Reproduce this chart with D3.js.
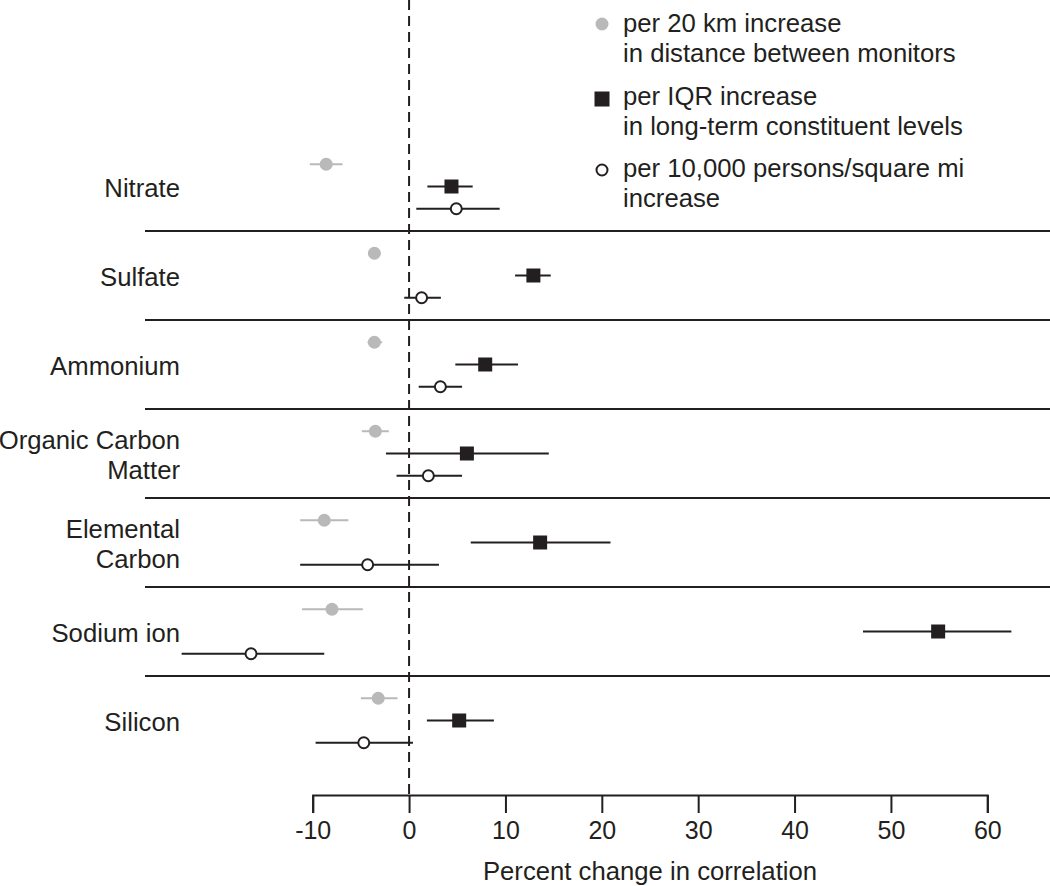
<!DOCTYPE html>
<html>
<head>
<meta charset="utf-8">
<script src="https://cdn.jsdelivr.net/npm/d3@7"></script>
<style>
  body { margin: 0; background: #fff; }
  svg text { font-family: "Liberation Sans", Arial, sans-serif; fill: #231f20; }
</style>
</head>
<body>
<div id="chart"></div>
<script>
// constituent groups, top to bottom (label lines)
var categories = [
	["Nitrate"],
	["Sulfate"],
	["Ammonium"],
	["Organic Carbon", "Matter"],
	["Elemental", "Carbon"],
	["Sodium ion"],
	["Silicon"]
];

// per 20 km increase in distance between monitors: [estimate, lower, upper]
var distanceEst = [-8.6, -3.6, -3.6, -3.5, -8.8, -8.0, -3.2];
var distanceLo  = [-10.3, -4.2, -4.3, -4.9, -11.3, -11.1, -5.0];
var distanceHi  = [-6.9, -3.0, -2.8, -2.1, -6.3, -4.8, -1.2];

// per IQR increase in long-term constituent levels
var iqrEst = [4.4, 12.9, 7.9, 6.0, 13.6, 54.9, 5.2];
var iqrLo  = [1.9, 11.0, 4.8, -2.4, 6.4, 47.1, 1.85];
var iqrHi  = [6.6, 14.7, 11.3, 14.5, 20.9, 62.5, 8.8];

// per 10,000 persons/square mi increase
var densEst = [4.9, 1.3, 3.25, 2.0, -4.3, -16.4, -4.7];
var densLo  = [0.75, -0.5, 1.0, -1.3, -11.3, -23.6, -9.7];
var densHi  = [9.4, 3.3, 5.5, 5.5, 3.1, -8.8, 0.4];

var xTicks = [-10, 0, 10, 20, 30, 40, 50, 60];

var legendLabels = [
	["per 20 km increase", "in distance between monitors"],
	["per IQR increase", "in long-term constituent levels"],
	["per 10,000 persons/square mi", "increase"]
];

var width = 1050, height = 886;
var plotLeft = 145, plotRight = 1050;
var gray = "#b9b9b9", dark = "#231f20";
var fs = 25.7;

var svg = d3.select("#chart").append("svg")
	.attr("width", width)
	.attr("height", height);

var x = d3.scaleLinear().domain([-10, 60]).range([312.7, 987.3]);
var y = d3.scaleBand()
	.domain(categories.map(function(d, i) { return i; }))
	.range([142, 765]);
var step = y.bandwidth() / 4;

// series table built from the arrays above
var series = [
	{key: "distance", est: distanceEst, lo: distanceLo, hi: distanceHi, row: 1, color: gray},
	{key: "iqr", est: iqrEst, lo: iqrLo, hi: iqrHi, row: 2, color: dark},
	{key: "dens", est: densEst, lo: densLo, hi: densHi, row: 3, color: dark}
];
var rows = [];
series.forEach(function(s) {
	categories.forEach(function(c, i) {
		rows.push({key: s.key, est: s.est[i], lo: s.lo[i], hi: s.hi[i],
			y: y(i) + step * s.row, color: s.color});
	});
});

// group separators
svg.append("g").selectAll("line")
	.data(categories.slice(0, -1))
	.enter().append("line")
	.attr("x1", plotLeft).attr("x2", plotRight)
	.attr("y1", function(d, i) { return y(i) + y.bandwidth(); })
	.attr("y2", function(d, i) { return y(i) + y.bandwidth(); })
	.attr("stroke", dark).attr("stroke-width", 2);

// reference line at zero
svg.append("line")
	.attr("x1", x(0)).attr("x2", x(0))
	.attr("y1", 0).attr("y2", 795)
	.attr("stroke", dark).attr("stroke-width", 2)
	.attr("stroke-dasharray", "10,6");

// category labels
var labels = svg.append("g").selectAll("text")
	.data(categories)
	.enter().append("text")
	.attr("text-anchor", "end")
	.attr("font-size", fs)
	.attr("x", 180)
	.attr("y", function(d, i) { return y(i) + step * 2 + 2 - (d.length - 1) * 15; });
labels.selectAll("tspan")
	.data(function(d) { return d; })
	.enter().append("tspan")
	.attr("x", 180)
	.attr("dy", function(d, i) { return i === 0 ? "0.35em" : 30; })
	.text(function(d) { return d; });

// confidence intervals
svg.append("g").selectAll("line")
	.data(rows)
	.enter().append("line")
	.attr("x1", function(d) { return x(d.lo); })
	.attr("x2", function(d) { return x(d.hi); })
	.attr("y1", function(d) { return d.y; })
	.attr("y2", function(d) { return d.y; })
	.attr("stroke", function(d) { return d.color; })
	.attr("stroke-width", 2);

// point estimates
var pts = svg.append("g");
pts.selectAll(".dist")
	.data(rows.filter(function(d) { return d.key === "distance"; }))
	.enter().append("circle")
	.attr("cx", function(d) { return x(d.est); })
	.attr("cy", function(d) { return d.y; })
	.attr("r", 6.5)
	.attr("fill", gray);
pts.selectAll(".iqr")
	.data(rows.filter(function(d) { return d.key === "iqr"; }))
	.enter().append("rect")
	.attr("x", function(d) { return x(d.est) - 7; })
	.attr("y", function(d) { return d.y - 7; })
	.attr("width", 14).attr("height", 14)
	.attr("fill", dark);
pts.selectAll(".dens")
	.data(rows.filter(function(d) { return d.key === "dens"; }))
	.enter().append("circle")
	.attr("cx", function(d) { return x(d.est); })
	.attr("cy", function(d) { return d.y; })
	.attr("r", 5.5)
	.attr("fill", "#fff")
	.attr("stroke", dark)
	.attr("stroke-width", 2);

// x axis
var axis = svg.append("g")
	.attr("transform", "translate(0,795)")
	.call(d3.axisBottom(x).tickValues(xTicks).tickSize(18).tickPadding(8)
		.tickFormat(function(d) { return d; }));
axis.select(".domain").attr("stroke", dark).attr("stroke-width", 2);
axis.selectAll(".tick line").attr("stroke", dark).attr("stroke-width", 2);
axis.selectAll(".tick text").attr("font-size", 25).attr("fill", dark)
	.attr("font-family", "Liberation Sans, Arial, sans-serif");

svg.append("text")
	.attr("x", (x(-10) + x(60)) / 2)
	.attr("y", 871)
	.attr("dy", "0.35em")
	.attr("text-anchor", "middle")
	.attr("font-size", fs)
	.text("Percent change in correlation");

// legend
var legendY = [23, 96, 168];
var leg = svg.append("g").selectAll("g")
	.data(legendLabels)
	.enter().append("g")
	.attr("transform", function(d, i) { return "translate(602," + legendY[i] + ")"; });
leg.each(function(d, i) {
	var g = d3.select(this);
	if (i === 0) g.append("circle").attr("cy", 1).attr("r", 6.5).attr("fill", gray);
	if (i === 1) g.append("rect").attr("x", -7.5).attr("y", -4.5).attr("width", 15).attr("height", 15).attr("fill", dark);
	if (i === 2) g.append("circle").attr("cy", 2).attr("r", 5.5).attr("fill", "#fff").attr("stroke", dark).attr("stroke-width", 2);
	g.selectAll("text")
		.data(d)
		.enter().append("text")
		.attr("x", 21)
		.attr("y", function(t, j) { return j * 30; })
		.attr("dy", "0.35em")
		.attr("font-size", fs)
		.text(function(t) { return t; });
});
</script>
</body>
</html>
